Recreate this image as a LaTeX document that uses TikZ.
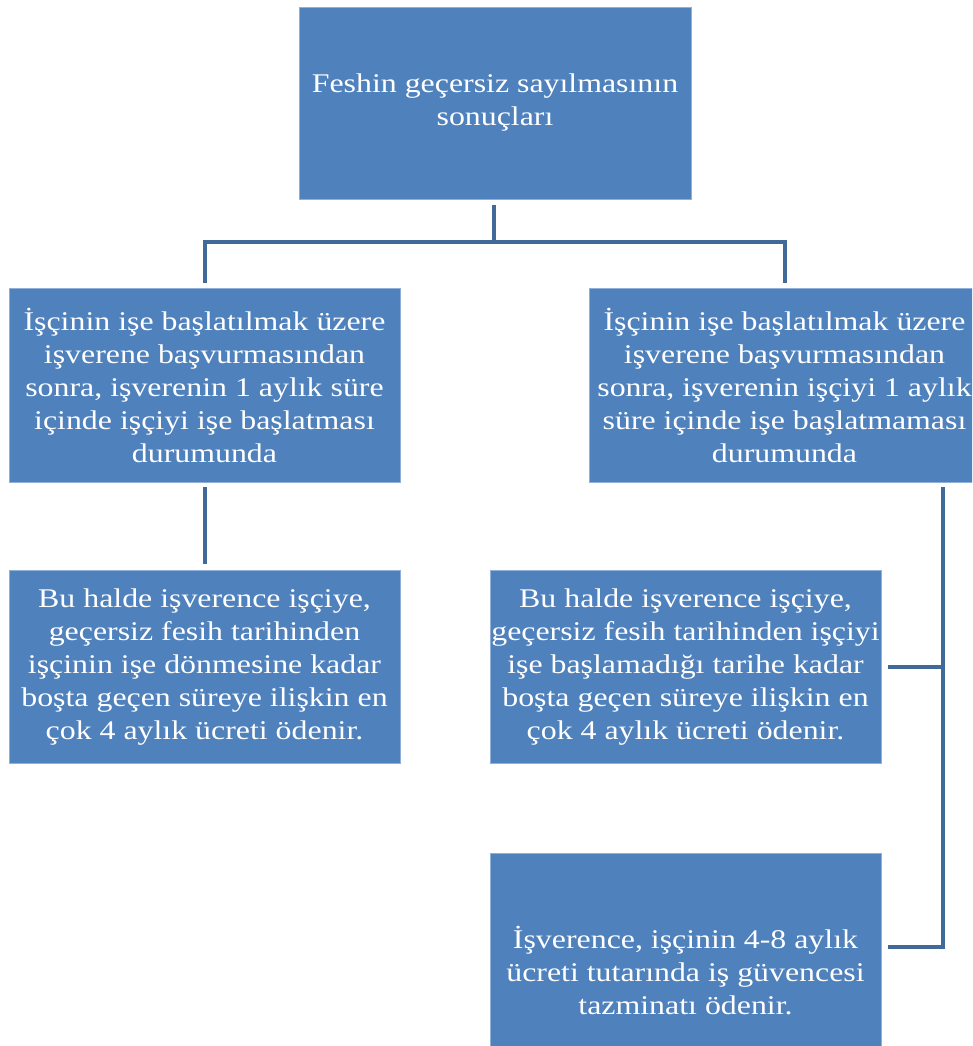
\documentclass[tikz,border=0pt]{standalone}
\usepackage{fontspec}
\setmainfont{Liberation Serif}[FakeStretch=1.18]
\definecolor{boxblue}{HTML}{4F81BD}
\definecolor{lineblue}{HTML}{41699A}
\definecolor{edgeblue}{HTML}{8FB0D8}
\begin{document}
\begin{tikzpicture}[x=1pt,y=-1pt,
  blk/.style={rectangle, fill=boxblue, draw=edgeblue, line width=0.8pt,
    inner sep=0pt, text=white, align=center,
    font=\fontsize{27}{33}\selectfont},
  conn/.style={draw=lineblue, line width=4pt}]
\useasboundingbox (0,0) rectangle (972,1046);
\fill[white] (0,0) rectangle (972,1046);
\begin{scope}
\clip (0,0) rectangle (972,1046);
\node[blk, minimum width=392pt, minimum height=192pt] (top) at (495,103)
  {Feshin geçersiz sayılmasının\\sonuçları};
\node[blk, minimum width=391pt, minimum height=194pt] (L2) at (204.5,385)
  {İşçinin işe başlatılmak üzere\\işverene başvurmasından\\sonra, işverenin 1 aylık süre\\içinde işçiyi işe başlatması\\durumunda};
\node[blk, minimum width=391pt, minimum height=194pt] (R2) at (784.5,385)
  {İşçinin işe başlatılmak üzere\\işverene başvurmasından\\sonra, işverenin işçiyi 1 aylık\\süre içinde işe başlatmaması\\durumunda};
\node[blk, minimum width=391pt, minimum height=193pt] (L3) at (204.5,667)
  {Bu halde işverence işçiye,\\geçersiz fesih tarihinden\\işçinin işe dönmesine kadar\\boşta geçen süreye ilişkin en\\çok 4 aylık ücreti ödenir.};
\node[blk, minimum width=391pt, minimum height=193pt] (R3) at (685.5,667)
  {Bu halde işverence işçiye,\\geçersiz fesih tarihinden işçiyi\\işe başlamadığı tarihe kadar\\boşta geçen süreye ilişkin en\\çok 4 aylık ücreti ödenir.};
\node[blk, minimum width=391pt, minimum height=236pt] (R4) at (685.5,971)
  {İşverence, işçinin 4-8 aylık\\ücreti tutarında iş güvencesi\\tazminatı ödenir.};
\end{scope}
% connectors
\coordinate (hub) at (494,242);
\coordinate (rv) at (943,487);
\draw[conn] ([xshift=-1pt,yshift=-6pt]top.south) -- (hub);
\draw[conn] ([yshift=5pt]L2.north) |- (hub) -| ([yshift=5pt]R2.north);
\draw[conn] ([yshift=-5pt]L2.south) -- ([yshift=6pt]L3.north);
\draw[conn] (rv) |- ([xshift=7pt,yshift=24pt]R4.east);
\draw[conn] ([xshift=7pt]R3.east) -- (rv |- R3.east);
\end{tikzpicture}
\end{document}
